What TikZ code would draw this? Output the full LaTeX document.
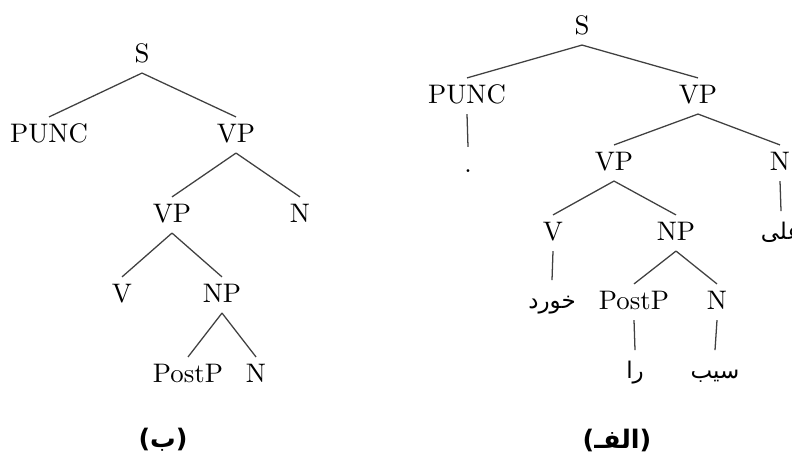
\documentclass[tikz,border=0pt]{standalone}
\usepackage{fontspec}
\newfontfamily\farsi[Script=Arabic]{DejaVu Sans}
\newfontfamily\capfont{DejaVu Sans}
\TeXXeTstate=1
\newcommand{\fa}[1]{\beginR #1\endR}
\newcommand{\capt}[1]{{\capfont(}{\farsi\fa{#1}}{\capfont)}}

\begin{document}
\begin{tikzpicture}[x=0.392pt, y=-0.392pt,
            cat/.style={inner sep=3pt, text height=1.6ex, text depth=0.2ex, font=\fontsize{10.5}{12}\selectfont},
            word/.style={inner sep=3pt, font=\farsi\small, text height=1.8ex, text depth=0.7ex},
            caption/.style={font=\bfseries},
            edge/.style={color=black!75, line width=0.5pt}]
            \useasboundingbox (0,0) rectangle (792,455);
            \clip (0,0) rectangle (792,455);

            % tree (b)
            \node[cat] (bS) at (142,55) {S};
            \node[cat] (bPUNC) at (49,135) {PUNC};
            \node[cat] (bVP) at (236,135) {VP};
            \node[cat] (bVPi) at (172,215) {VP};
            \node[cat] (bN) at (300,215) {N};
            \node[cat] (bV) at (122,295) {V};
            \node[cat] (bNP) at (222,295) {NP};
            \node[cat] (bPostP) at (188,375) {PostP};
            \node[cat] (bNi) at (256,375) {N};
            \node[caption] (bcap) at (163,440) {\capt{ب}};

            \draw[edge] (bS.south) -- (bPUNC.north);
            \draw[edge] (bS.south) -- (bVP.north);
            \draw[edge] (bVP.south) -- (bVPi.north);
            \draw[edge] (bVP.south) -- (bN.north);
            \draw[edge] (bVPi.south) -- (bV.north);
            \draw[edge] (bVPi.south) -- (bNP.north);
            \draw[edge] (bNP.south) -- (bPostP.north);
            \draw[edge] (bNP.south) -- (bNi.north);

            % tree (a)
            \node[cat] (aS) at (582,27) {S};
            \node[cat] (aPUNC) at (467,96) {PUNC};
            \node[cat] (aVP) at (698,96) {VP};
            \node[cat] (adot) at (468,165) {.};
            \node[cat] (aVPi) at (614,163) {VP};
            \node[cat] (aN) at (780,163) {N};
            \node[word] (aAli) at (781,233) {\fa{علی}};
            \node[cat] (aV) at (553,233) {V};
            \node[cat] (aNP) at (676,233) {NP};
            \node[word] (aKhord) at (552,302) {\fa{خورد}};
            \node[cat] (aPostP) at (634,302) {PostP};
            \node[cat] (aNi) at (717,302) {N};
            \node[word] (aRa) at (635,372) {\fa{را}};
            \node[word] (aSib) at (715,372) {\fa{سیب}};
            \node[caption] (acap) at (617,440) {\capt{الفـ}};

            \draw[edge] (aS.south) -- (aPUNC.north);
            \draw[edge] (aS.south) -- (aVP.north);
            \draw[edge] (aPUNC.south) -- (adot.north);
            \draw[edge] (aVP.south) -- (aVPi.north);
            \draw[edge] (aVP.south) -- (aN.north);
            \draw[edge] (aN.south) -- (aAli.north);
            \draw[edge] (aVPi.south) -- (aV.north);
            \draw[edge] (aVPi.south) -- (aNP.north);
            \draw[edge] (aV.south) -- (aKhord.north);
            \draw[edge] (aNP.south) -- (aPostP.north);
            \draw[edge] (aNP.south) -- (aNi.north);
            \draw[edge] (aPostP.south) -- (aRa.north);
            \draw[edge] (aNi.south) -- (aSib.north);
        \end{tikzpicture}
\end{document}
